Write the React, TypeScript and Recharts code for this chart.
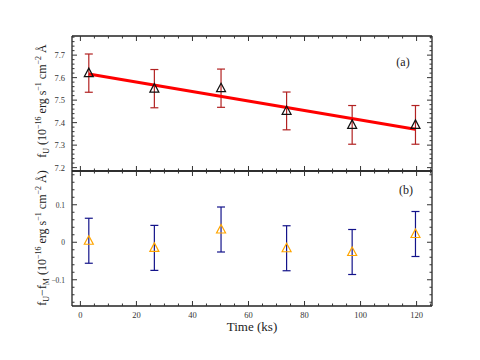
import React from 'react';
import { ComposedChart, Scatter, Line, XAxis, YAxis, ErrorBar } from 'recharts';

// ---- data ----
const times = [3.0, 26.4, 50.2, 73.6, 97.0, 119.6];
const fluxU = [7.62, 7.551, 7.553, 7.452, 7.39, 7.39];
const fluxErr = [0.085, 0.085, 0.085, 0.084, 0.086, 0.086];
const fitTimes = [3.0, 119.5];
const fitFlux = [7.616, 7.371];
const residual = [0.004, -0.015, 0.034, -0.016, -0.026, 0.022];
const residualErr = [0.06, 0.06, 0.06, 0.06, 0.06, 0.06];

// ---- ticks ----
const xMajor = [0, 20, 40, 60, 80, 100, 120];
const xMinor = [5, 10, 15, 25, 30, 35, 45, 50, 55, 65, 70, 75, 85, 90, 95, 105, 110, 115, 125];
const yTopMajor = [7.2, 7.3, 7.4, 7.5, 7.6, 7.7];
const yBotMajor = [-0.1, 0, 0.1];

const minorSteps = (from: number, to: number, step: number, majors: number[]) => {
  const out: number[] = [];
  const n = Math.round((to - from) / step);
  for (let i = 0; i <= n; i++) {
    const v = +(from + i * step).toFixed(4);
    if (!majors.some((m) => Math.abs(m - v) < 1e-6)) out.push(v);
  }
  return out;
};
const yTopMinor = minorSteps(7.2, 7.78, 0.02, yTopMajor);
const yBotMinor = minorSteps(-0.16, 0.18, 0.02, yBotMajor);

const xTicks = [...xMajor, ...xMinor].sort((a, b) => a - b);
const yTopTicks = [...yTopMajor, ...yTopMinor].sort((a, b) => a - b);
const yBotTicks = [...yBotMajor, ...yBotMinor].sort((a, b) => a - b);

const xDomain: [number, number] = [-3, 125.5];
const yTopDomain: [number, number] = [7.185, 7.785];
const yBotDomain: [number, number] = [-0.17, 0.19];

const topData = times.map((t, i) => ({ t, v: fluxU[i], err: fluxErr[i] }));
const fitData = fitTimes.map((t, i) => ({ t, v: fitFlux[i] }));
const botData = times.map((t, i) => ({ t, v: residual[i], err: residualErr[i] }));

const SERIF = 'Times New Roman, Liberation Serif, serif';
const FRAME = '#222';

type Side = 'left' | 'right' | 'top' | 'bottom';

const makeTick = (
  side: Side,
  majors: number[],
  fmt: ((v: number) => string) | null,
  fontSize = 8.5
) => (props: any) => {
  const { x, y, payload } = props;
  const v = payload.value as number;
  const isMajor = majors.some((m) => Math.abs(m - v) < 1e-6);
  const len = isMajor ? 5 : 2.5;
  let x2 = x;
  let y2 = y;
  if (side === 'left') x2 = x + len;
  if (side === 'right') x2 = x - len;
  if (side === 'top') y2 = y + len;
  if (side === 'bottom') y2 = y - len;
  let label: React.ReactNode = null;
  if (fmt && isMajor) {
    if (side === 'left') {
      label = (
        <text x={x - 7} y={y + 3} textAnchor="end" fontSize={fontSize} fontFamily={SERIF} fontWeight="normal" fill="#333">
          {fmt(v)}
        </text>
      );
    } else if (side === 'bottom') {
      label = (
        <text x={x} y={y + 12} textAnchor="middle" fontSize={fontSize} fontFamily={SERIF} fontWeight="normal" fill="#333">
          {fmt(v)}
        </text>
      );
    }
  }
  return (
    <g>
      <line x1={x} y1={y} x2={x2} y2={y2} stroke="#333" strokeWidth={1} />
      {label}
    </g>
  );
};

const triangle = (color: string) => (props: any) => {
  const { cx, cy } = props;
  if (cx == null || cy == null) return <g />;
  const pts = `${cx},${cy - 5} ${cx - 4.5},${cy + 3.5} ${cx + 4.5},${cy + 3.5}`;
  return <polygon points={pts} fill="none" stroke={color} strokeWidth={1.2} strokeLinejoin="miter" />;
};

const fmtTop = (v: number) => v.toFixed(1);
const fmtBot = (v: number) => (Math.abs(v) < 1e-9 ? '0' : (v < 0 ? '\u2212' : '') + Math.abs(v).toFixed(1));
const fmtX = (v: number) => String(v);

const axisLine = { stroke: FRAME, strokeWidth: 1.3 };

function Frame({ yDomain, yTicks, yMajors, yFmt, yFont, showX }: any) {
  return [
    <XAxis
      key="xb"
      xAxisId="b"
      orientation="bottom"
      type="number"
      dataKey="t"
      domain={xDomain}
      allowDataOverflow
      ticks={xTicks}
      interval={0}
      height={showX ? 20 : 1}
      tickSize={0}
      tickMargin={0}
      tickLine={false}
      axisLine={axisLine}
      tick={makeTick('bottom', xMajor, showX ? fmtX : null)}
    />,
    <XAxis
      key="xt"
      xAxisId="t"
      orientation="top"
      type="number"
      dataKey="t"
      domain={xDomain}
      allowDataOverflow
      ticks={xTicks}
      interval={0}
      height={1}
      tickSize={0}
      tickMargin={0}
      tickLine={false}
      axisLine={axisLine}
      tick={makeTick('top', xMajor, null)}
    />,
    <YAxis
      key="yl"
      yAxisId="l"
      orientation="left"
      type="number"
      domain={yDomain}
      allowDataOverflow
      ticks={yTicks}
      interval={0}
      width={30}
      tickSize={0}
      tickMargin={0}
      tickLine={false}
      axisLine={axisLine}
      tick={makeTick('left', yMajors, yFmt, yFont)}
    />,
    <YAxis
      key="yr"
      yAxisId="r"
      orientation="right"
      type="number"
      domain={yDomain}
      allowDataOverflow
      ticks={yTicks}
      interval={0}
      width={1}
      tickSize={0}
      tickMargin={0}
      tickLine={false}
      axisLine={axisLine}
      tick={makeTick('right', yMajors, null)}
    />,
  ];
}

export default function App() {
  return (
    <div style={{ position: 'absolute', left: 0, top: 0, width: 480, height: 360, background: '#fff' }}>
      <div style={{ position: 'absolute', left: 0, top: 0 }}>
        <ComposedChart width={480} height={360} margin={{ top: 35, right: 47, bottom: 188, left: 42 }}>
          {Frame({ yDomain: yTopDomain, yTicks: yTopTicks, yMajors: yTopMajor, yFmt: fmtTop, yFont: 8.5, showX: false })}
          <Scatter
            data={topData}
            dataKey="v"
            xAxisId="b"
            yAxisId="l"
            isAnimationActive={false}
            shape={triangle('#111')}
          >
            <ErrorBar dataKey="err" direction="y" width={4} stroke="#b22222" strokeWidth={1.2} />
          </Scatter>
          <Line
            data={fitData}
            dataKey="v"
            xAxisId="b"
            yAxisId="l"
            type="linear"
            stroke="#ff0000"
            strokeWidth={3}
            dot={false}
            isAnimationActive={false}
          />
        </ComposedChart>
      </div>
      <div style={{ position: 'absolute', left: 0, top: 0 }}>
        <ComposedChart width={480} height={360} margin={{ top: 170, right: 47, bottom: 34, left: 42 }}>
          {Frame({ yDomain: yBotDomain, yTicks: yBotTicks, yMajors: yBotMajor, yFmt: fmtBot, yFont: 7.5, showX: true })}
          <Scatter
            data={botData}
            dataKey="v"
            xAxisId="b"
            yAxisId="l"
            isAnimationActive={false}
            shape={triangle('#ffa500')}
          >
            <ErrorBar dataKey="err" direction="y" width={4} stroke="#13138a" strokeWidth={1.2} />
          </Scatter>
        </ComposedChart>
      </div>
      <svg
        width={480}
        height={360}
        style={{ position: 'absolute', left: 0, top: 0, pointerEvents: 'none', fontFamily: SERIF, fontWeight: 'normal' }}
      >
        <text x={46} y={101} transform="rotate(-90, 46, 101)" textAnchor="middle" fontSize={12} fill="#222">
          <tspan>f</tspan>
          <tspan dy={3} fontSize={8}>U</tspan>
          <tspan dy={-3}>{' (10'}</tspan>
          <tspan dy={-5} fontSize={8}>{'\u221216'}</tspan>
          <tspan dy={5}>{' erg s'}</tspan>
          <tspan dy={-5} fontSize={8}>{'\u22121'}</tspan>
          <tspan dy={5}>{' cm'}</tspan>
          <tspan dy={-5} fontSize={8}>{'\u22122'}</tspan>
          <tspan dy={5}>{' \u00c5'}</tspan>
        </text>
        <text x={46} y={238} transform="rotate(-90, 46, 238)" textAnchor="middle" fontSize={12} fill="#222">
          <tspan>f</tspan>
          <tspan dy={3} fontSize={8}>U</tspan>
          <tspan dy={-3}>{'\u2212f'}</tspan>
          <tspan dy={3} fontSize={8}>M</tspan>
          <tspan dy={-3}>{' (10'}</tspan>
          <tspan dy={-5} fontSize={8}>{'\u221216'}</tspan>
          <tspan dy={5}>{' erg s'}</tspan>
          <tspan dy={-5} fontSize={8}>{'\u22121'}</tspan>
          <tspan dy={5}>{' cm'}</tspan>
          <tspan dy={-5} fontSize={8}>{'\u22122'}</tspan>
          <tspan dy={5}>{' \u00c5)'}</tspan>
        </text>
        <text x={403} y={66} textAnchor="middle" fontSize={12} fill="#222">(a)</text>
        <text x={406} y={194} textAnchor="middle" fontSize={12} fill="#222">(b)</text>
        <text x={252} y={331} textAnchor="middle" fontSize={13} fontWeight="normal" fill="#222">Time (ks)</text>
      </svg>
    </div>
  );
}
